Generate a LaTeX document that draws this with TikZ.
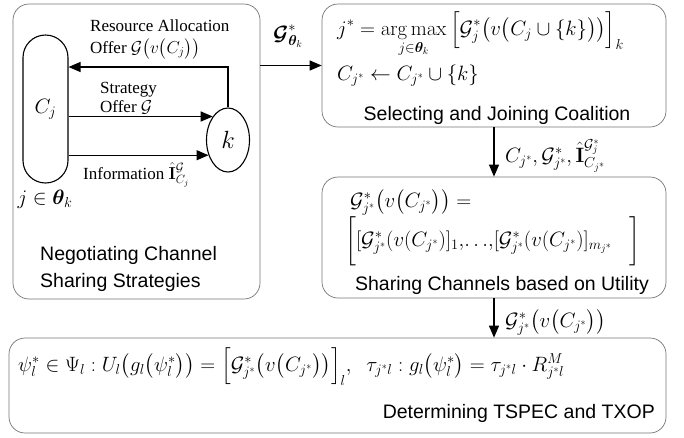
\documentclass[tikz,border=0pt]{standalone}
\usepackage{amsmath,amssymb,bm}
\usepackage[no-math]{fontspec}
\setmainfont{Liberation Serif}
\newfontfamily\labelsans{Liberation Sans}
\usetikzlibrary{shapes.geometric,arrows.meta,calc}

\begin{document}
\begin{tikzpicture}[x=1pt,y=-1pt,
  panel/.style={draw=black!55, line width=0.7pt, rounded corners=16pt, inner sep=0pt},
  flow/.style={line width=1.2pt, -{Triangle[length=12pt,width=10pt]}},
  serif/.style={font=\fontsize{17}{20}\selectfont, inner sep=0pt},
  sanslbl/.style={font=\labelsans\fontsize{19.5}{24}\selectfont, inner sep=0pt},
  mth/.style={font=\fontsize{20.5}{24}\selectfont, inner sep=0pt}]

\useasboundingbox (0,0) rectangle (684,437);

% stage panels
\node[panel, minimum width=247pt, minimum height=295pt] (neg) at (136.5,151.5) {};
\node[panel, minimum width=344pt, minimum height=123pt] (sel) at (494,65.5) {};
\node[panel, minimum width=344pt, minimum height=121pt] (share) at (494,237.5) {};
\node[panel, minimum width=657pt, minimum height=95pt] (tspec) at (337.5,385.5) {};

% coalition and newcomer
\node[draw, line width=1.1pt, rounded corners=22.5pt, minimum width=45pt,
      minimum height=148pt, mth] (cj) at (45.5,109) {$C_j$};
\node[draw, ellipse, line width=1.1pt, minimum width=43pt, minimum height=64pt,
      inner sep=0pt, font=\fontsize{24}{24}\selectfont] (k) at (228,140) {$k$};

% negotiation messages
\draw[flow] (k.north) |- ([yshift=42pt]cj.east);
\draw[flow] (cj.east |- k.123) -- (k.123);
\draw[flow] (cj.east |- k.218) -- (k.218);

\node[serif, anchor=base west] (ra1) at (90,31) {Resource Allocation};
\node[serif, anchor=base west] (ra2) at (90,53) {Offer $\mathcal{G}\big(v\big(C_j\big)\big)$};
\node[serif, anchor=base west] (st1) at (100,93) {Strategy};
\node[serif, anchor=base west] (st2) at (100,112) {Offer $\mathcal{G}$};
\node[serif, anchor=base west] (inf) at (83,179) {Information $\hat{\mathbf{I}}^{\mathcal{G}}_{C_j}$};
\node[mth, anchor=base] (theta) at (45,204) {$j\in\bm{\theta}_k$};
\node[sanslbl, anchor=base west] (neg1) at (40,260) {Negotiating Channel};
\node[sanslbl, anchor=base west] (neg2) at (40,287) {Sharing Strategies};

% stage transitions
\draw[flow] (neg.east |- sel.west) -- (sel.west);
\draw[flow] (sel.south) -- (share.north);
\draw[flow] (share.south) -- (share.south |- tspec.north);

\node[mth, anchor=base] (gth) at (288,40) {$\bm{\mathcal{G}}^*_{\bm{\theta}_k}$};
\node[mth, anchor=base west] (cgi) at (505,162)
  {$C_{j^*},\mathcal{G}^*_{j^*},\hat{\mathbf{I}}^{\mathcal{G}^*_j}_{C_{j^*}}$};
\node[mth, anchor=base west] (gv) at (505,327)
  {$\mathcal{G}^*_{j^*}\big(v\big(C_{j^*}\big)\big)$};

% selecting and joining
\node[mth, anchor=base west] (f1) at (337,35)
  {$\displaystyle j^* = \mathop{\arg\max}\limits_{j\in\bm{\theta}_k}
   \Big[\mathcal{G}^*_j\big(v\big(C_j\cup\{k\}\big)\big)\Big]_k$};
\node[mth, anchor=base west] (f2) at (337,80)
  {$C_{j^*}\leftarrow C_{j^*}\cup\{k\}$};
\node[sanslbl, anchor=base] (selt) at (497,120) {Selecting and Joining Coalition};

% sharing channels
\node[mth, anchor=base west] (g1) at (350,207)
  {$\mathcal{G}^*_{j^*}\big(v\big(C_{j^*}\big)\big) =$};
\node[mth, anchor=base west] (g2) at (345,246)
  {$\bigg[[\mathcal{G}^*_{j^*}(v(C_{j^*})]_1{,}{\ldots}{,}[\mathcal{G}^*_{j^*}(v(C_{j^*})]_{m_{j^*}}\;\;\;\bigg]$};
\node[sanslbl, anchor=base] (sht) at (502,290) {Sharing Channels based on Utility};

% TSPEC and TXOP
\node[mth, anchor=base west] (t1) at (18,371)
  {$\psi^*_l\in\Psi_l : U_l\big(g_l\big(\psi^*_l\big)\big)
   = \Big[\mathcal{G}^*_{j^*}\big(v\big(C_{j^*}\big)\big)\Big]_l,\;\;
   \tau_{j^*l} : g_l\big(\psi^*_l\big) = \tau_{j^*l}\cdot R^M_{j^*l}$};
\node[sanslbl, anchor=base east] (tt) at (655,418) {Determining TSPEC and TXOP};
\end{tikzpicture}
\end{document}
